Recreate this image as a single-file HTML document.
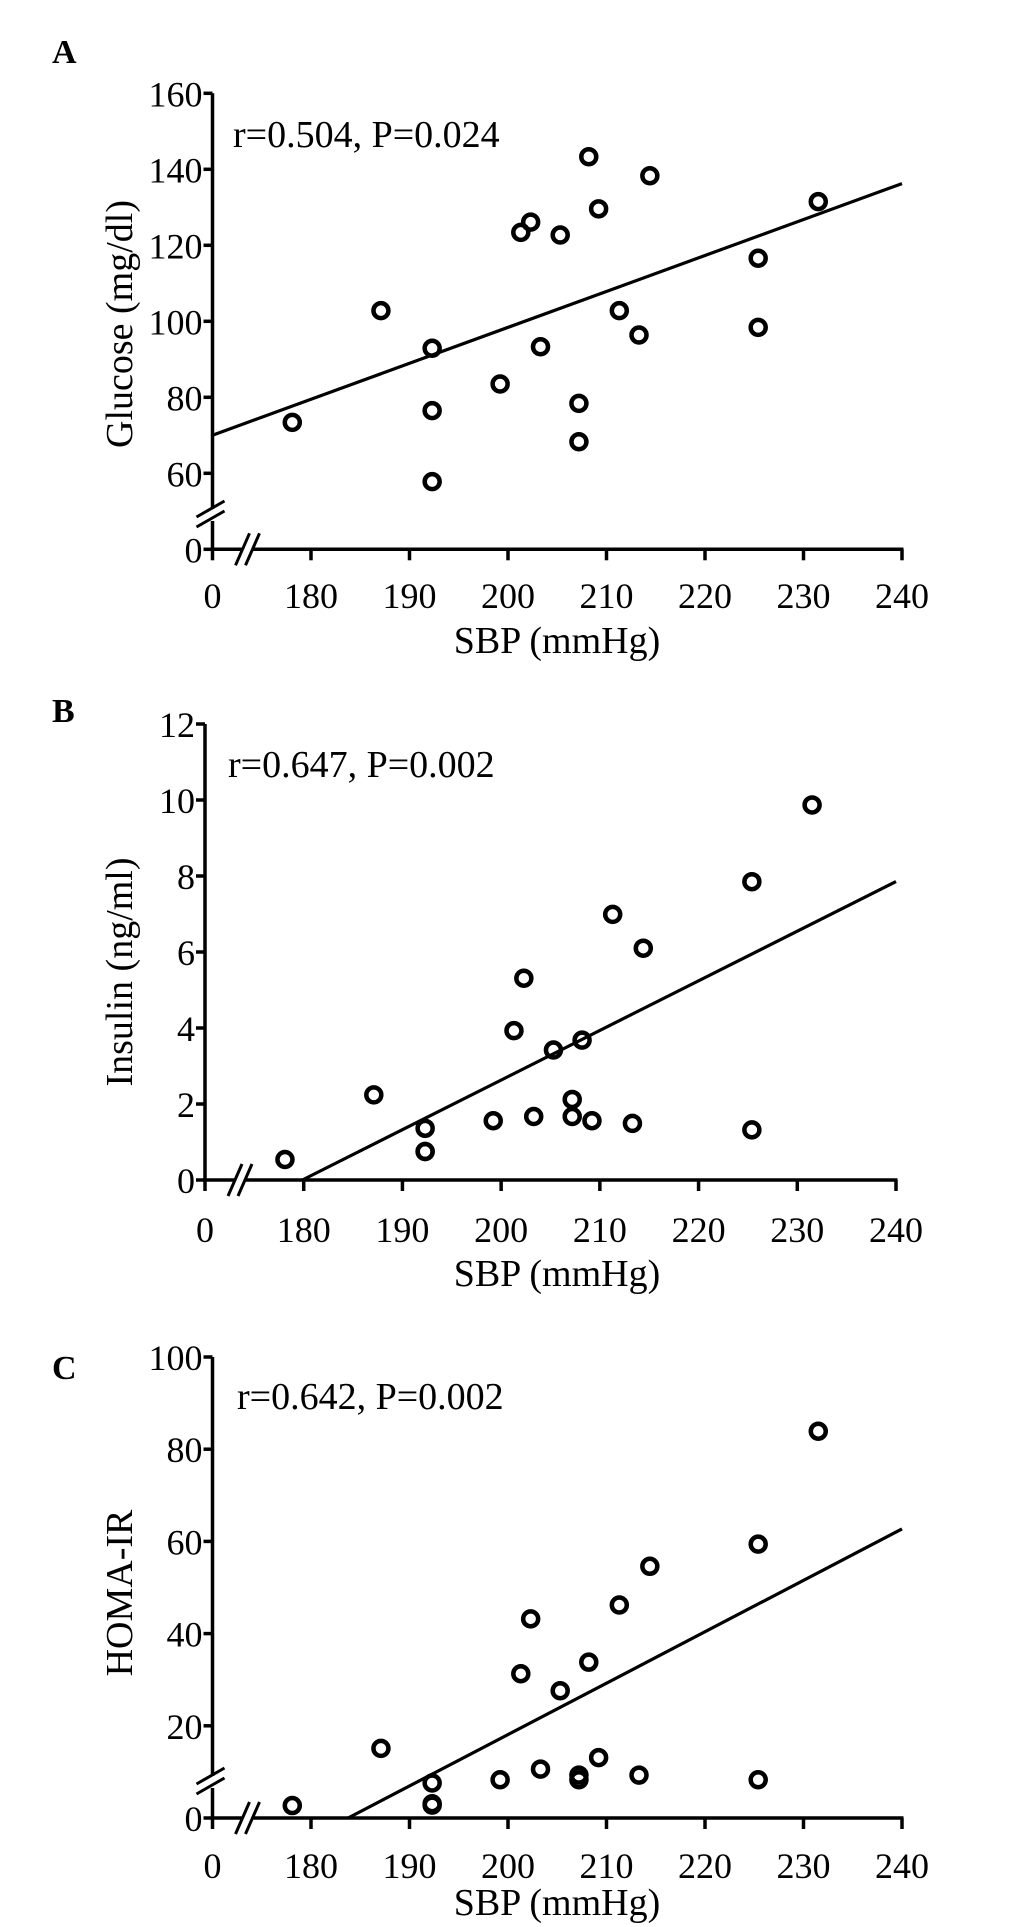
<!DOCTYPE html>
<html><head><meta charset="utf-8">
<style>
html,body{margin:0;padding:0;background:#fff;}
svg{display:block;font-family:"Liberation Serif","Times New Roman",serif;}
</style></head>
<body>
<svg id="fig" width="1033" height="1927" viewBox="0 0 1033 1927" xmlns="http://www.w3.org/2000/svg"></svg>
<script>
const sbp = [178.1,187.1,192.3,192.3,192.3,199.2,201.3,202.3,203.3,205.3,207.2,207.2,208.2,209.2,211.3,213.3,214.4,225.4,225.4,231.5];
const glucose = [73.4,102.8,92.9,76.5,57.8,83.5,123.4,126.1,93.3,122.7,78.4,68.3,143.3,129.6,102.8,96.4,138.3,116.6,98.4,131.5];
const insulin = [0.54,2.24,1.36,0.75,0.75,1.56,3.93,5.31,1.67,3.42,1.67,2.12,3.68,1.56,6.99,1.49,6.10,7.85,1.32,9.87];
const homa = [2.7,15.1,7.6,3.1,2.8,8.3,31.3,43.2,10.6,27.6,8.3,9.3,33.8,13.1,46.2,9.3,54.6,59.4,8.3,83.9];
const xTicks = [170,180,190,200,210,220,230,240];
const xTickLabels = ["0","180","190","200","210","220","230","240"];
const yTicksA = [40,60,80,100,120,140,160];
const yTickLabelsA = ["0","60","80","100","120","140","160"];
const yTicksB = [0,2,4,6,8,10,12];
const yTickLabelsB = ["0","2","4","6","8","10","12"];
const yTicksC = [0,20,40,60,80,100];
const yTickLabelsC = ["0","20","40","60","80","100"];
const fitA = [0.946,-90.8];
const fitB = [0.1306,-23.49];
const fitC = [1.115,-204.9];

const NS="http://www.w3.org/2000/svg";
const svg=document.getElementById('fig');
function mk(tag,attrs,parent){const e=document.createElementNS(NS,tag);for(const k in attrs)e.setAttribute(k,attrs[k]);(parent||svg).appendChild(e);return e;}

function panel(cfg){
  const g=mk('g',{});
  
  
  const xs=v=>cfg.x0px+(v-170)*(cfg.x1px-cfg.x0px)/70;
  const ys=v=>cfg.yb+(v-cfg.ymin)*(cfg.yt-cfg.yb)/(cfg.ymax-cfg.ymin);
  const ax=xs(170), ay=ys(cfg.ymin);
  const yl=mk('line',{x1:ax,y1:ys(cfg.ymax),x2:ax,y2:ay,stroke:'#000','stroke-width':3.5},g);
  
  
  const xl=mk('line',{x1:ax,y1:ay,x2:xs(240)+1.5,y2:ay,stroke:'#000','stroke-width':3.5},g);
  
  
  cfg.yTicks.forEach((t,i)=>{
    const y=ys(t);
    const tk=mk('line',{x1:ax-9,y1:y,x2:ax,y2:y,stroke:'#000','stroke-width':3.5},g);
    
    
    const tx=mk('text',{x:ax-10,y:y+13,'font-size':36,'text-anchor':'end'},g);
    tx.textContent=cfg.yLabels[i];
    
    
  });
  xTicks.forEach((t,i)=>{
    const x=xs(t);
    const tk=mk('line',{x1:x,y1:ay,x2:x,y2:ay+11,stroke:'#000','stroke-width':3.5},g);
    
    
    const tx=mk('text',{x:x,y:cfg.xlabY,'font-size':36,'text-anchor':'middle'},g);
    tx.textContent=xTickLabels[i];
    
    
  });
  const bx=ax+35;
  mk('rect',{x:bx-6,y:ay-4,width:12,height:8,fill:'#fff'},g);
  [-5,5].forEach(d=>{
    const b=mk('line',{x1:bx+d-7,y1:ay+16,x2:bx+d+7,y2:ay-16,stroke:'#000','stroke-width':3},g);
    
    
  });
  if(cfg.ybreak!==undefined){
    const by=cfg.ybreak;
    mk('rect',{x:ax-4,y:by-6,width:8,height:12,fill:'#fff'},g);
    [-5,5].forEach(d=>{
      const b=mk('line',{x1:ax-16,y1:by+d+7,x2:ax+12,y2:by+d-9,stroke:'#000','stroke-width':3},g);
      
      
    });
  }
  const fx0=Math.max(170,(cfg.ymin-cfg.fit[1])/cfg.fit[0]);
  const fl=mk('line',{x1:xs(fx0),y1:ys(cfg.fit[0]*fx0+cfg.fit[1]),x2:xs(240),y2:ys(cfg.fit[0]*240+cfg.fit[1]),stroke:'#000','stroke-width':3.2},g);
  
  
  sbp.forEach((v,i)=>{
    const c=mk('circle',{cx:xs(v),cy:ys(cfg.vals[i]),r:7.5,fill:'none',stroke:'#000','stroke-width':4.5},g);
    
    
  });
  const an=mk('text',{x:cfg.annX,y:cfg.annY,'font-size':38},g);
  an.textContent=cfg.ann;
  
  
  const yt=mk('text',{x:0,y:0,'font-size':38,'text-anchor':'middle',transform:`translate(${cfg.ytX},${cfg.ytY}) rotate(-90)`},g);
  yt.textContent=cfg.yTitle;
  
  
  const xt=mk('text',{x:557,y:cfg.xtY,'font-size':38,'text-anchor':'middle'},g);
  xt.textContent='SBP (mmHg)';
  
  
  const pl=mk('text',{x:52,y:cfg.letterY,'font-size':34,'font-weight':'bold'},g);
  pl.textContent=cfg.letter;
  
  
}

panel({id:'glucose',x0px:212.5,x1px:902,ymin:40,ymax:160,yb:549.3,yt:93.3,yTicks:yTicksA,yLabels:yTickLabelsA,
  vals:glucose,fit:fitA,ann:'r=0.504, P=0.024',annX:233,annY:147,yTitle:'Glucose (mg/dl)',ytX:132,ytY:324,
  xlabY:608,xtY:653,letter:'A',letterY:63,ybreak:515});
panel({id:'insulin',x0px:205,x1px:896,ymin:0,ymax:12,yb:1180,yt:724,yTicks:yTicksB,yLabels:yTickLabelsB,
  vals:insulin,fit:fitB,ann:'r=0.647, P=0.002',annX:228,annY:777,yTitle:'Insulin (ng/ml)',ytX:132,ytY:972,
  xlabY:1242,xtY:1286,letter:'B',letterY:722});
panel({id:'homa',x0px:212.5,x1px:902,ymin:0,ymax:100,yb:1818,yt:1357,yTicks:yTicksC,yLabels:yTickLabelsC,
  vals:homa,fit:fitC,ann:'r=0.642, P=0.002',annX:237,annY:1409,yTitle:'HOMA-IR',ytX:132,ytY:1593,
  xlabY:1878,xtY:1915,letter:'C',letterY:1379,ybreak:1782});
</script>
</body></html>
